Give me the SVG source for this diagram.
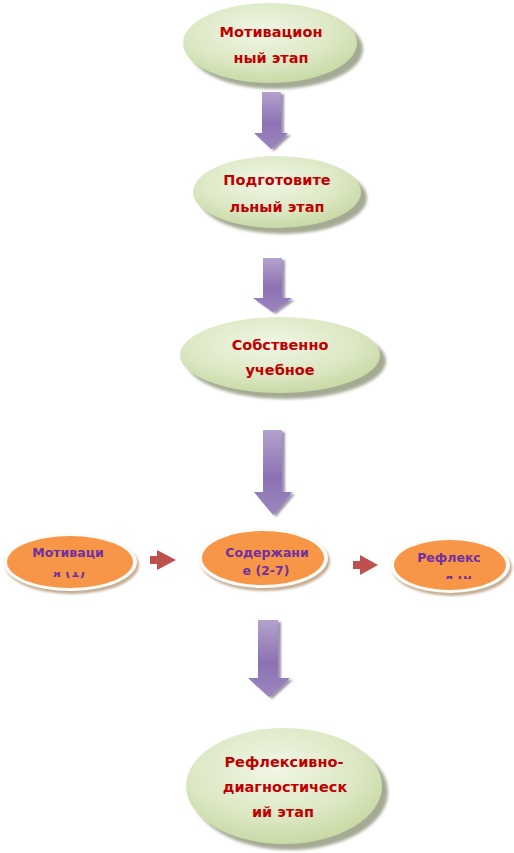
<svg xmlns="http://www.w3.org/2000/svg" width="514" height="853" viewBox="0 0 514 853">
<style>
.gt{font-family:"DejaVu Sans","Liberation Sans",sans-serif;font-weight:bold;font-size:14.5px;fill:#C00000;text-anchor:middle}
.ot{font-family:"DejaVu Sans","Liberation Sans",sans-serif;font-weight:bold;font-size:12.5px;fill:#7030A0;text-anchor:middle}
.gsh{fill:#959C82;opacity:0.85;filter:url(#blur)}
.gel{fill:url(#gg)}
.osh{fill:#B89A78;opacity:0.8;filter:url(#blur1)}
.orim{fill:#FBFBF8}
.oel{fill:#F79646}
.ash{fill:#4E3A6A;opacity:0.55;filter:url(#blur1)}
.arr{fill:url(#pg)}
.red{fill:#C0504D}
</style>
<defs>
<filter id="blur" x="-20%" y="-20%" width="140%" height="140%"><feGaussianBlur stdDeviation="1.6"/></filter>
<filter id="blur1" x="-20%" y="-20%" width="140%" height="140%"><feGaussianBlur stdDeviation="1.2"/></filter>
<radialGradient id="gg" cx="0.45" cy="0.35" r="0.7">
<stop offset="0" stop-color="#F1F6E6"/>
<stop offset="0.6" stop-color="#DCE8C4"/>
<stop offset="1" stop-color="#C4D69E"/>
</radialGradient>
<linearGradient id="pg" x1="0" y1="0" x2="0" y2="1">
<stop offset="0" stop-color="#B3A2CC"/>
<stop offset="0.55" stop-color="#8D72B3"/>
<stop offset="1" stop-color="#9C86C0"/>
</linearGradient>
<clipPath id="c1"><rect x="40" y="572" width="60" height="8"/></clipPath>
<clipPath id="c3"><rect x="445" y="576" width="26" height="3"/></clipPath>
</defs>

<g id="connectors">
<g id="a1">
<path class="ash" d="M265 94 H284 V135 H291 L274 151 L257 135 H265 Z"/>
<path class="arr" d="M262 92 H281 V133 H288 L271 149 L254 133 H262 Z"/>
</g>
<g id="a2">
<path class="ash" d="M266 260 H285 V300 H295 L275.5 314 L256 300 H266 Z"/>
<path class="arr" d="M263 258 H282 V298 H292 L272.5 312 L253 298 H263 Z"/>
</g>
<g id="a3">
<path class="ash" d="M266 432 H285 V494 H295 L276 517 L257 494 H266 Z"/>
<path class="arr" d="M263 430 H282 V492 H292 L273 515 L254 492 H263 Z"/>
</g>
<g id="a4">
<path class="ash" d="M261 622 H281 V680 H293 L272 699 L251 680 H261 Z"/>
<path class="arr" d="M258 620 H278 V678 H290 L269 697 L248 678 H258 Z"/>
</g>
<path id="r1" class="red" d="M150 556 H157 V550 L176 560 L157 570 V564 H150 Z"/>
<path id="r2" class="red" d="M353 561 H360 V555 L378 565 L360 575 V569 H353 Z"/>
</g>

<g id="n1">
<ellipse class="gsh" cx="276" cy="49" rx="87" ry="40"/>
<ellipse class="gel" cx="270" cy="43" rx="87" ry="40"/>
<text class="gt" x="271" y="37">Мотивацион</text>
<text class="gt" x="271" y="63">ный этап</text>
</g>

<g id="n2">
<ellipse class="gsh" cx="283" cy="198" rx="84" ry="36"/>
<ellipse class="gel" cx="277" cy="192" rx="84" ry="36"/>
<text class="gt" x="277" y="185">Подготовите</text>
<text class="gt" x="277" y="212">льный этап</text>
</g>

<g id="n3">
<ellipse class="gsh" cx="286" cy="361" rx="100" ry="38"/>
<ellipse class="gel" cx="280" cy="355" rx="100" ry="38"/>
<text class="gt" x="280" y="350">Собственно</text>
<text class="gt" x="280" y="375">учебное</text>
</g>

<g id="o1">
<ellipse class="osh" cx="72" cy="565" rx="67" ry="29"/>
<ellipse class="orim" cx="70" cy="562" rx="67" ry="29"/>
<ellipse class="oel" cx="70" cy="562" rx="63" ry="26"/>
<text class="ot" x="68" y="557">Мотиваци</text>
<text class="ot" x="69" y="577" clip-path="url(#c1)">я (1)</text>
</g>

<g id="o2">
<ellipse class="osh" cx="265" cy="561" rx="65" ry="30"/>
<ellipse class="orim" cx="263" cy="558" rx="65" ry="30"/>
<ellipse class="oel" cx="263" cy="558" rx="61" ry="27"/>
<text class="ot" x="267" y="557">Содержани</text>
<text class="ot" x="266" y="575">е (2-7)</text>
</g>

<g id="o3">
<ellipse class="osh" cx="452" cy="568" rx="60" ry="28"/>
<ellipse class="orim" cx="450" cy="565" rx="60" ry="28"/>
<ellipse class="oel" cx="450" cy="565" rx="56" ry="25"/>
<text class="ot" x="449" y="562">Рефлекс</text>
<text class="ot" x="457" y="580" clip-path="url(#c3)">ия (8)</text>
</g>

<g id="n4">
<ellipse class="gsh" cx="290" cy="792" rx="98" ry="58"/>
<ellipse class="gel" cx="284" cy="786" rx="98" ry="58"/>
<text class="gt" x="284" y="767">Рефлексивно-</text>
<text class="gt" x="285" y="792">диагностическ</text>
<text class="gt" x="283" y="817">ий этап</text>
</g>
</svg>
